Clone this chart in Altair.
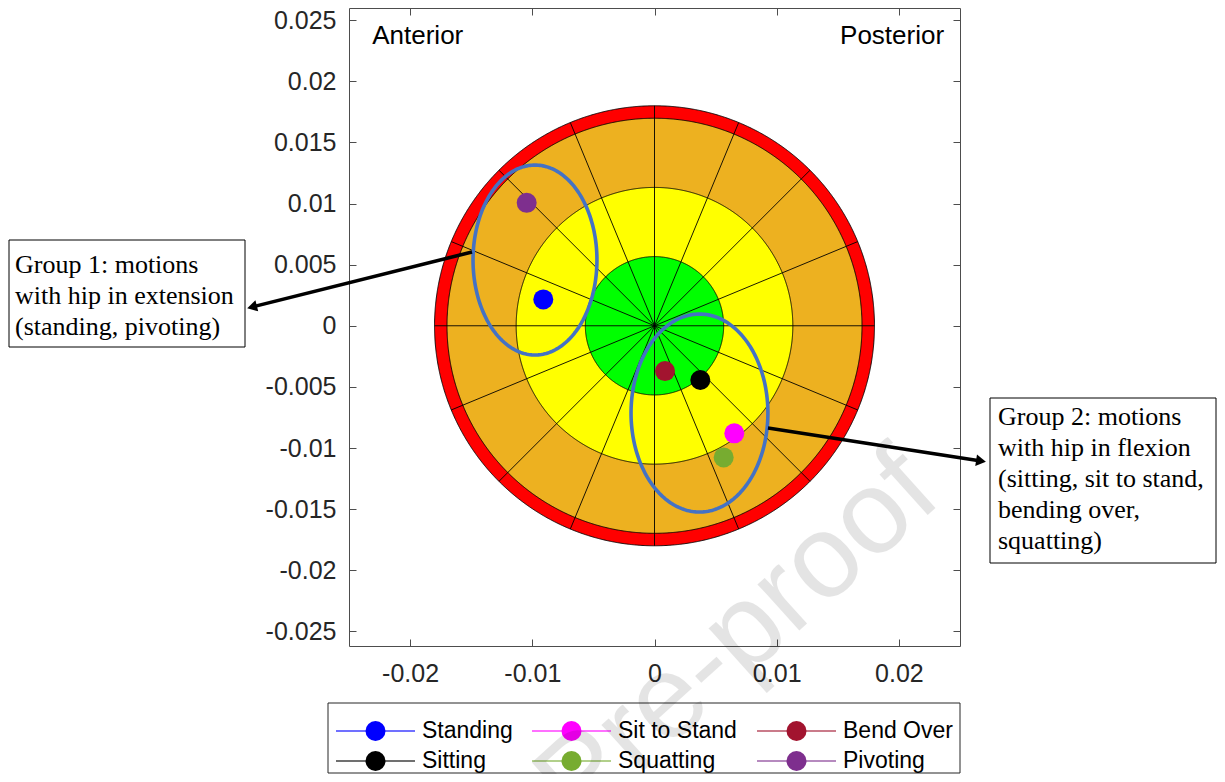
import numpy as np
import pandas as pd
import altair as alt

# ---------------- data ----------------
motions = ["Standing", "Sitting", "Sit to Stand", "Squatting", "Bend Over", "Pivoting"]
motion_x = [-0.0091, 0.00375, 0.00653, 0.00566, 0.00086, -0.01046]
motion_y = [0.00216, -0.00444, -0.0088, -0.01077, -0.00371, 0.01006]
motion_colors = ["#0000FF", "#000000", "#FF00FF", "#77AC30", "#A2142F", "#7E2F8E"]

zone_radius = [0.0180, 0.01698, 0.01132, 0.00566]
zone_colors = ["#FF0000", "#EDB120", "#FFFF00", "#00FF00"]
n_spokes = 16

ellipse_cx = [-0.00978, 0.00368]
ellipse_cy = [0.00538, -0.00714]
ellipse_ax = [0.00507, 0.0056]
ellipse_ay = [0.00777, 0.0081]

x_ticks = [-0.02, -0.01, 0, 0.01, 0.02]
y_ticks = [-0.025, -0.02, -0.015, -0.01, -0.005, 0, 0.005, 0.01, 0.015, 0.02, 0.025]
x_domain = [-0.025, 0.025]
y_domain = [-0.0262, 0.0260]

side_labels = ["Anterior", "Posterior"]
side_x = [-0.0231, 0.0237]
side_y = [0.0237, 0.0237]
side_align = ["left", "right"]

group1_lines = ["Group 1: motions", "with hip in extension", "(standing, pivoting)"]
group2_lines = ["Group 2: motions", "with hip in flexion", "(sitting, sit to stand,",
                "bending over,", "squatting)"]

# ---------------- layout (pixels, relative to plot area) ----------------
W, H = 611, 638
PAD = {"left": 341, "top": 0, "right": 257, "bottom": 128}
LINE_H = 31
box1 = dict(x=-340, x2=-104, y=232, y2=339, tx=-334, ty=257)
box2 = dict(x=641, x2=867, y=390, y2=555, tx=649, ty=409)
arrows = pd.DataFrame({"x": [123, 419], "y": [244, 420], "x2": [-97, 632], "y2": [299, 453],
                       "ang": [166, 8.8]})
leg_box = dict(x=-21, x2=611, y=695, y2=765)
leg_cols = [-13, 183, 408]
leg_rows = [723, 753]
leg_line_len = 79

xs = alt.Scale(domain=x_domain, nice=False, zero=False)
ys = alt.Scale(domain=y_domain, nice=False, zero=False)
color_scale = alt.Scale(domain=motions, range=motion_colors)
lab_expr = "toString(round(datum.value*1000)/1000)"
axis_col = "#4d4d4d"
FONT = "Liberation Sans"
SERIF = "Liberation Serif"

def X(f="x"):
    return alt.X(f"{f}:Q", scale=xs, axis=None)

def Y(f="y"):
    return alt.Y(f"{f}:Q", scale=ys, axis=None)

def PX(f):
    return alt.X(f"{f}:Q", scale=None, axis=None)

def PY(f):
    return alt.Y(f"{f}:Q", scale=None, axis=None)

layers = []

# axes (bottom/left with labels)
axis_df = pd.DataFrame({"x": x_domain, "y": y_domain})
layers.append(
    alt.Chart(axis_df).mark_point(opacity=0).encode(
        x=alt.X("x:Q", scale=xs, title=None,
                axis=alt.Axis(orient="bottom", values=x_ticks, grid=False, tickSize={"expr": "-7"},
                              labelPadding=22, labelFontSize=25, labelFont=FONT, labelColor="#262626",
                              domainColor=axis_col, tickColor=axis_col, labelExpr=lab_expr,
                              labelFlush=False)),
        y=alt.Y("y:Q", scale=ys, title=None,
                axis=alt.Axis(orient="left", values=y_ticks, grid=False, tickSize={"expr": "-7"},
                              labelPadding=20, labelFontSize=25, labelFont=FONT, labelColor="#262626",
                              domainColor=axis_col, tickColor=axis_col, labelExpr=lab_expr,
                              labelFlush=False)),
    )
)
# mirrored axes (top/right, ticks only)
layers.append(
    alt.Chart(axis_df).mark_point(opacity=0).encode(
        x=alt.X("x:Q", scale=xs, title=None,
                axis=alt.Axis(orient="top", values=x_ticks, grid=False, tickSize={"expr": "-7"},
                              labels=False, domainColor=axis_col, tickColor=axis_col)),
        y=alt.Y("y:Q", scale=ys, title=None,
                axis=alt.Axis(orient="right", values=y_ticks, grid=False, tickSize={"expr": "-7"},
                              labels=False, domainColor=axis_col, tickColor=axis_col)),
    )
)

# target zones (discs)
t_half = np.linspace(0, np.pi, 721)
for r, c in zip(zone_radius, zone_colors):
    d = pd.DataFrame({"x": r * np.cos(t_half), "y": r * np.sin(t_half)})
    d["y2"] = -d["y"]
    layers.append(
        alt.Chart(d).mark_area(fill=c, fillOpacity=1, opacity=1, stroke="black", strokeWidth=0.9)
        .encode(x=X(), y=Y(), y2="y2:Q")
    )

# spokes
ang = np.arange(n_spokes) * 2 * np.pi / n_spokes
spokes = pd.DataFrame({"x": 0.0, "y": 0.0,
                       "x2": zone_radius[0] * np.cos(ang), "y2": zone_radius[0] * np.sin(ang)})
layers.append(
    alt.Chart(spokes).mark_rule(color="black", strokeWidth=0.9)
    .encode(x=X(), y=Y(), x2="x2:Q", y2="y2:Q")
)

# group ellipses
t_full = np.linspace(0, 2 * np.pi, 241)
ell = []
for g, (cx, cy, ax_, ay_) in enumerate(zip(ellipse_cx, ellipse_cy, ellipse_ax, ellipse_ay)):
    for i, t in enumerate(t_full):
        ell.append({"g": g, "i": i, "x": cx + ax_ * np.cos(t), "y": cy + ay_ * np.sin(t)})
layers.append(
    alt.Chart(pd.DataFrame(ell)).mark_line(color="#4472C4", strokeWidth=3.6)
    .encode(x=X(), y=Y(), detail="g:N", order="i:Q")
)

# motion points
pts = pd.DataFrame({"motion": motions, "x": motion_x, "y": motion_y})
layers.append(
    alt.Chart(pts).mark_circle(size=400, opacity=1)
    .encode(x=X(), y=Y(), color=alt.Color("motion:N", scale=color_scale, legend=None))
)

# Anterior / Posterior
for lab, sx, sy, al in zip(side_labels, side_x, side_y, side_align):
    layers.append(
        alt.Chart(pd.DataFrame({"t": [lab], "x": [sx], "y": [sy]}))
        .mark_text(align=al, baseline="middle", font=FONT, fontSize=26, color="black")
        .encode(x=X(), y=Y(), text="t:N")
    )

# annotation boxes
for box, lines in [(box1, group1_lines), (box2, group2_lines)]:
    layers.append(
        alt.Chart(pd.DataFrame([box])).mark_rect(fill="white", stroke="black", strokeWidth=1)
        .encode(x=PX("x"), x2="x2:Q", y=PY("y"), y2="y2:Q")
    )
    tdf = pd.DataFrame({"t": lines, "x": box["tx"],
                        "y": [box["ty"] + LINE_H * k for k in range(len(lines))]})
    layers.append(
        alt.Chart(tdf).mark_text(align="left", baseline="middle", font=SERIF, fontSize=26, color="black")
        .encode(x=PX("x"), y=PY("y"), text="t:N")
    )

# arrows
layers.append(
    alt.Chart(arrows).mark_rule(color="black", strokeWidth=3.6)
    .encode(x=PX("x"), y=PY("y"), x2="x2:Q", y2="y2:Q")
)
layers.append(
    alt.Chart(arrows).mark_point(shape="triangle-right", filled=True, size=130, color="black", opacity=1)
    .encode(x=PX("x2"), y=PY("y2"), angle=alt.Angle("ang:Q", scale=None))
)

# legend
leg = pd.DataFrame({"motion": motions,
                    "x": [leg_cols[i // 2] for i in range(len(motions))],
                    "y": [leg_rows[i % 2] for i in range(len(motions))]})
leg["x2"] = leg["x"] + leg_line_len
leg["xc"] = leg["x"] + leg_line_len / 2
leg["xl"] = leg["x"] + leg_line_len + 7
layers.append(
    alt.Chart(pd.DataFrame([leg_box])).mark_rect(fill="white", stroke="#262626", strokeWidth=1)
    .encode(x=PX("x"), x2="x2:Q", y=PY("y"), y2="y2:Q")
)
layers.append(
    alt.Chart(leg).mark_rule(strokeWidth=1.5, opacity=0.75)
    .encode(x=PX("x"), x2="x2:Q", y=PY("y"),
            color=alt.Color("motion:N", scale=color_scale, legend=None))
)
layers.append(
    alt.Chart(leg).mark_circle(size=400, opacity=1)
    .encode(x=PX("xc"), y=PY("y"), color=alt.Color("motion:N", scale=color_scale, legend=None))
)
layers.append(
    alt.Chart(leg).mark_text(align="left", baseline="middle", font=FONT, fontSize=23, color="black")
    .encode(x=PX("xl"), y=PY("y"), text="motion:N")
)

# watermark
layers.append(
    alt.Chart(pd.DataFrame({"t": ["Journal Pre-proof"], "x": [572], "y": [466]}))
    .mark_text(align="right", baseline="middle", font=FONT, fontSize=118, angle=318,
               color="#000000", opacity=0.1)
    .encode(x=PX("x"), y=PY("y"), text="t:N")
)

chart = (
    alt.layer(*layers)
    .resolve_axis(x="independent", y="independent")
    .properties(width=W, height=H, padding=PAD, autosize=alt.AutoSizeParams(type="none"))
    .configure_view(stroke="transparent")
)

chart.save("out.html", embed_options={"renderer": "svg", "actions": False})
